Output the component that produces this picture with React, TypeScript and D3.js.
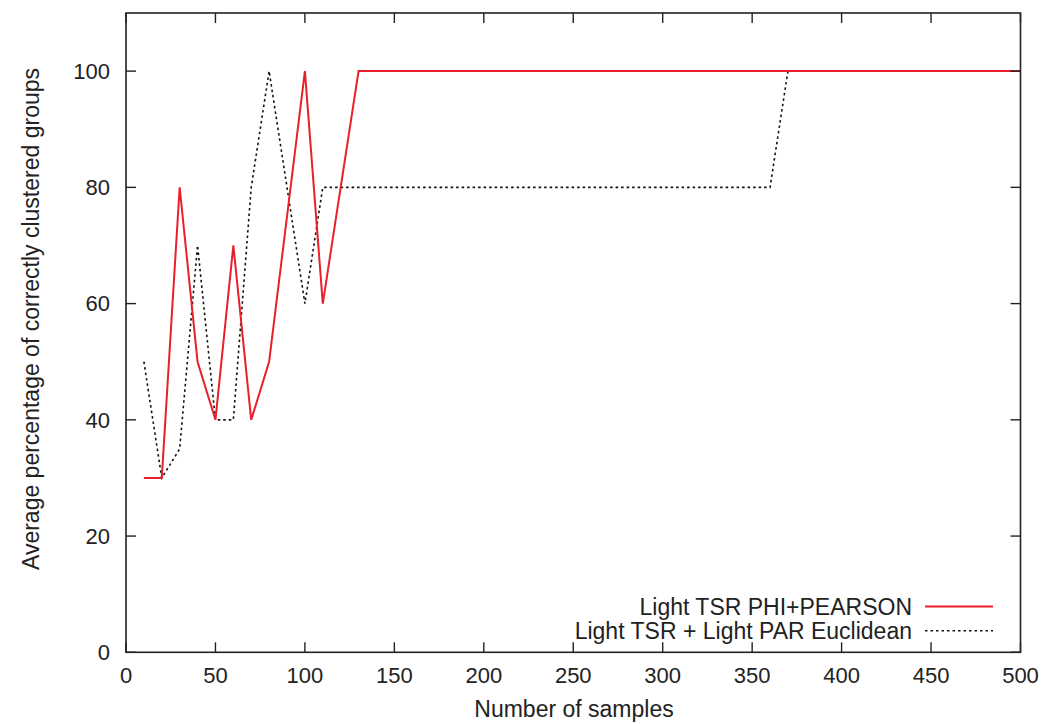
import React from "react";
import * as d3 from "d3";

const redX = [10, 20, 30, 40, 50, 60, 70, 80, 100, 110, 130, 500];
const redY = [30, 30, 80, 50, 40, 70, 40, 50, 100, 60, 100, 100];
const blackX = [10, 20, 30, 40, 50, 60, 70, 80, 100, 110, 360, 370, 500];
const blackY = [50, 30, 35, 70, 40, 40, 80, 100, 60, 80, 80, 100, 100];
const xTicks = [0, 50, 100, 150, 200, 250, 300, 350, 400, 450, 500];
const yTicks = [0, 20, 40, 60, 80, 100];
const seriesNames = ["Light TSR PHI+PEARSON", "Light TSR + Light PAR Euclidean"];

const W = 1048, H = 724;
const left = 126, right = 1020.5, top = 13, bottom = 652.3;
const FONT = "'Liberation Sans', Arial, sans-serif";
const FS = 22;
const FT = 23;
const RED = "#e8202a";

export default function App() {
  const x = d3.scaleLinear().domain([0, 500]).range([left, right]);
  const y = d3.scaleLinear().domain([0, 110]).range([bottom, top]);
  const line = d3.line<[number, number]>().x(d => x(d[0])).y(d => y(d[1]));
  const red = redX.map((v, i) => [v, redY[i]] as [number, number]);
  const blk = blackX.map((v, i) => [v, blackY[i]] as [number, number]);
  const tl = 10;
  return (
    <svg width={W} height={H} style={{ position: "absolute", left: 0, top: 0, background: "#fff" }}>
      <rect x={0} y={0} width={W} height={H} fill="#fff" />
      <path d={line(blk) || ""} fill="none" stroke="#111" strokeWidth={1.6} strokeDasharray="2.5,3" />
      <path d={line(red) || ""} fill="none" stroke={RED} strokeWidth={2} strokeLinejoin="miter" />
      <rect x={left} y={top} width={right - left} height={bottom - top} fill="none" stroke="#222" strokeWidth={1.6} />
      {xTicks.map(t => (
        <g key={"x" + t}>
          <line x1={x(t)} x2={x(t)} y1={bottom} y2={bottom - tl} stroke="#222" strokeWidth={1.4} />
          <line x1={x(t)} x2={x(t)} y1={top} y2={top + tl} stroke="#222" strokeWidth={1.4} />
          <text x={x(t)} y={683} textAnchor="middle" fontFamily={FONT} fontSize={FS} fill="#222">{t}</text>
        </g>
      ))}
      {yTicks.map(t => (
        <g key={"y" + t}>
          <line x1={left} x2={left + tl} y1={y(t)} y2={y(t)} stroke="#222" strokeWidth={1.4} />
          <line x1={right} x2={right - tl} y1={y(t)} y2={y(t)} stroke="#222" strokeWidth={1.4} />
          <text x={110} y={y(t) + 7.8} textAnchor="end" fontFamily={FONT} fontSize={FS} fill="#222">{t}</text>
        </g>
      ))}
      <text x={574} y={717} textAnchor="middle" fontFamily={FONT} fontSize={FT} fill="#222">Number of samples</text>
      <text transform={`translate(39,319) rotate(-90)`} textAnchor="middle" fontFamily={FONT} fontSize={FT} fill="#222">Average percentage of correctly clustered groups</text>
      <text x={912} y={615} textAnchor="end" fontFamily={FONT} fontSize={FT} fill="#222">{seriesNames[0]}</text>
      <line x1={925} x2={993} y1={606.5} y2={606.5} stroke={RED} strokeWidth={2} />
      <text x={912} y={639} textAnchor="end" fontFamily={FONT} fontSize={FT} fill="#222">{seriesNames[1]}</text>
      <line x1={925} x2={993} y1={630.7} y2={630.7} stroke="#111" strokeWidth={1.6} strokeDasharray="2.5,3" />
    </svg>
  );
}
